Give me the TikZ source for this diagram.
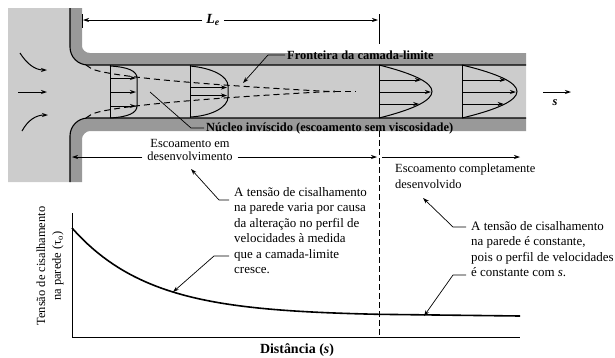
\documentclass[tikz,border=0pt]{standalone}
\usepackage{fontspec}
\setmainfont{Liberation Serif}
\usepackage{tikz}
\usetikzlibrary{arrows.meta}
\usetikzlibrary{calc}
\definecolor{fluid}{gray}{0.80}
\definecolor{wall}{gray}{0.60}

\begin{document}
\begin{tikzpicture}[x=1bp, y=-1bp, font=\fontsize{12.5}{15.5}\selectfont,
        every node/.style={inner sep=0pt},
        leader/.style={-{Stealth[length=6bp, width=4bp]}, line width=0.7bp},
        vel/.style={-{Stealth[length=6bp, width=4bp]}, line width=1bp},
        bl/.style={line width=1bp, dash pattern=on 6bp off 4bp},
        note/.style={align=left, font=\fontsize{13}{15.6}\selectfont}]
    \useasboundingbox (0,0) rectangle (615,357);
    % reservatorio e tubo
    \fill[fluid] (8,8) -- (70,8) -- (70,47) .. controls (70,57) and (78,65) .. (88,65) -- (526,65) -- (526,118) -- (88,118) .. controls (78,118) and (70,126) .. (70,136) -- (70,182) -- (8,182) -- cycle;
    \fill[wall] (70,8) -- (82,8) -- (82,46) .. controls (82,50) and (86,53) .. (90,53) -- (526,53) -- (526,65) -- (88,65) .. controls (78,65) and (70,57) .. (70,47) -- cycle;
    \fill[wall] (70,182) -- (82,182) -- (82,139) .. controls (82,135) and (86,131) .. (90,131) -- (526,131) -- (526,118) -- (88,118) .. controls (78,118) and (70,126) .. (70,136) -- cycle;
    \draw[line width=1.1bp] (70,8) -- (70,47) .. controls (70,57) and (78,65) .. (88,65) -- (526,65);
    \draw[line width=1.1bp] (70,182) -- (70,136) .. controls (70,126) and (78,118) .. (88,118) -- (526,118);
    \draw[vel] (20,53) .. controls (27,64) and (35,70) .. (47,70);
    \draw[vel] (18,92) -- (47,92);
    \draw[vel] (22,131) .. controls (28,120) and (36,115) .. (48,115);
    % perfis de velocidade
    \draw[line width=1bp] (110,65) -- (110,118);
    \draw[line width=1bp] (110,66) .. controls (128,67) and (137,71) .. (137,78) -- (137,106) .. controls (137,113) and (128,117) .. (110,118);
    \foreach \y in {78,92,106} \draw[vel] (110,\y) -- (136,\y);
    \draw[line width=1bp] (190,65) -- (190,118);
    \draw[line width=1bp] (190,66) .. controls (212,68) and (228,76) .. (228,86) -- (228,97) .. controls (228,107) and (212,116) .. (190,117);
    \foreach \y in {87.5,95.5} \draw[vel] (190,\y) -- (227,\y);
    \foreach \x/\w in {379/53, 462/55} {
        \draw[line width=1bp] (\x,65) -- (\x,118);
        \draw[line width=1bp] (\x,65) .. controls ({\x+4/3*\w},82.67) and ({\x+4/3*\w},100.33) .. (\x,118);
        \foreach \y in {80,92,104} \draw[vel] (\x,\y) -- ({\x+\w*(1-((\y-91.5)/26.5)^2)-1},\y);
    }
    % camada-limite
    \draw[bl] plot[domain=0:249, samples=40] ({86+\x},{65+1.7*sqrt(\x)});
    \draw[bl] plot[domain=0:249, samples=40] ({86+\x},{118-1.7*sqrt(\x)});
    \draw[bl] (335,91.5) -- (356,91.5);
    \coordinate (s0) at (543,92);
    \coordinate (s1) at (571,92);
    \draw[vel] (s0) -- (s1);
    \node (slab) at (555,103) {\textbf{\textit{s}}};
    % comprimento de entrada
    \node[inner xsep=4bp, font=\fontsize{14}{16}\selectfont] (le) at (213,20) {\textbf{\textit{L}\textsubscript{\textit{e}}}};
    \coordinate (le0) at (83,20);
    \coordinate (le1) at (378,20);
    \draw[leader] (le) -- (le0);
    \draw[leader] (le) -- (le1);
    \draw[line width=0.8bp] (82,14) -- (82,28);
    \draw[line width=0.8bp] (379,14) -- (379,44);
    \draw[line width=1bp, dash pattern=on 6bp off 3bp] (379,131) -- (379,337);
    \node[anchor=west, inner xsep=2bp] (front) at (285,55) {\textbf{Fronteira da camada-limite}};
    \coordinate (fronttip) at (243,83);
    \draw[leader] (front.west) -- ++(-17,0) -- (fronttip);
    \node[anchor=west, inner xsep=2bp] (core) at (204,128) {\textbf{Núcleo invíscido (escoamento sem viscosidade)}};
    \coordinate (coretip) at (150,92);
    \draw[line width=0.7bp] (core.west) -- ++(-13,0) -- (coretip);
    \node[align=center, inner xsep=5bp, font=\fontsize{12.5}{12.5}\selectfont] (dev) at (190,150) {Escoamento em\\desenvolvimento};
    \coordinate (dev0) at (72,157);
    \coordinate (dev1) at (377,157);
    \draw[leader] (dev.west |- dev0) -- (dev0);
    \draw[leader] (dev.east |- dev1) -- (dev1);
    \coordinate (full0) at (382,157);
    \coordinate (full1) at (520,157);
    \draw[leader] (full0) -- (full1);
    \node[align=left, anchor=north west] (full) at (395,164) {Escoamento completamente\\desenvolvido};
    % grafico
    \draw[line width=1bp] (72,213) -- (72,337) -- (520,337);
    \draw[line width=1.6bp] plot[domain=0:307, samples=60] ({72+\x},{316-88*exp(-\x/77.7)}) -- (520,316);
    \node[align=center, rotate=90, font=\fontsize{12.5}{16}\selectfont] (ylab) at (50,266) {Tensão de cisalhamento\\na parede (τ\textsubscript{o})};
    \node[font=\fontsize{14}{16}\selectfont] (xlab) at (297,350) {\textbf{Distância (\textit{s})}};
    \node[note, anchor=north west] (lnote) at (234,187) {A tensão de cisalhamento\\na parede varia por causa\\da alteração no perfil de\\velocidades à medida\\que a camada-limite\\cresce.};
    \coordinate (ltip1) at (191,169);
    \coordinate (ltip2) at (173,292);
    \draw[leader] ($(lnote.north west)+(-5,13)$) -- ++(-10,0) -- (ltip1);
    \draw[leader] ($(lnote.north west)+(-5,69)$) -- ++(-15,0) -- (ltip2);
    \node[note, anchor=north west] (rnote) at (471,221) {A tensão de cisalhamento\\na parede é constante,\\pois o perfil de velocidades\\é constante com \textit{s}.};
    \coordinate (rtip1) at (423,198);
    \coordinate (rtip2) at (424,316);
    \draw[leader] ($(rnote.north west)+(-5,6)$) -- ++(-13,0) -- (rtip1);
    \draw[leader] ($(rnote.north west)+(-5,54)$) -- ++(-13,0) -- (rtip2);
\end{tikzpicture}
\end{document}
